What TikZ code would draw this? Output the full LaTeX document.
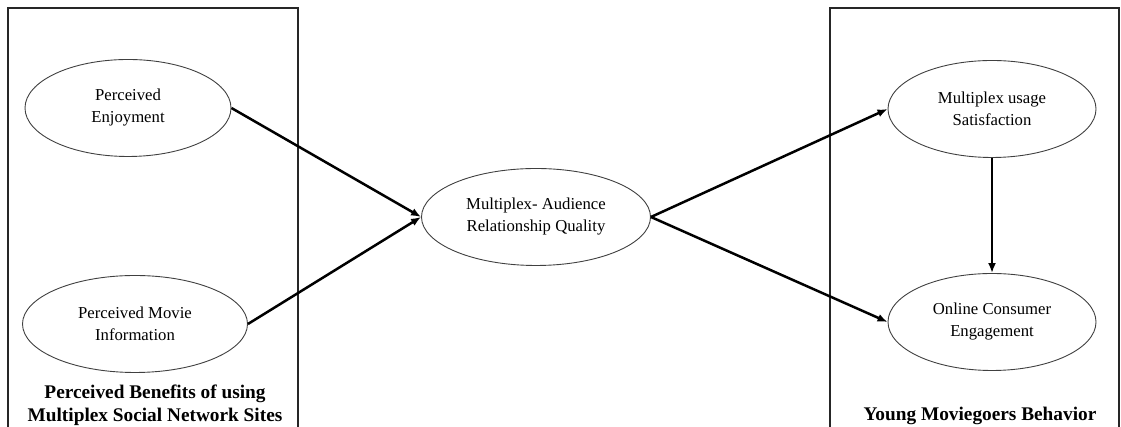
\documentclass[tikz,border=0pt]{standalone}
\usepackage{fontspec}
\setmainfont{Liberation Serif}
\usetikzlibrary{arrows.meta, positioning, shapes.geometric}

\begin{document}
\begin{tikzpicture}[
  x=1pt, y=1pt,
  construct/.style={
    ellipse, draw=black!75, line width=0.9pt, align=center,
    inner sep=0pt, minimum width=#1, minimum height=97pt,
    font=\fontsize{16.7}{22}\selectfont
  },
  groupbox/.style={draw=black!85, line width=1.6pt},
  grouplabel/.style={font=\fontsize{19.3}{23}\selectfont\bfseries, align=center},
  path/.style={-{Latex[length=10pt, width=8pt]}, line width=2.5pt},
]

\clip (0,0) rectangle (1121,427);

% --- Framing boxes -----------------------------------------------------------
\draw[groupbox] (8,-20) rectangle (298,419);
\draw[groupbox] (830,-20) rectangle (1119,419);

% --- Constructs --------------------------------------------------------------
\node[construct=206pt] (enjoy) at (128,319) {Perceived\\Enjoyment};
\node[construct=225pt] (info)  at (135,103) {Perceived Movie\\Information};
\node[construct=229pt] (rq)    at (536,210) {Multiplex- Audience\\Relationship Quality};
\node[construct=208pt] (satis) at (992,318) {Multiplex usage\\Satisfaction};
\node[construct=208pt] (engage) at (992,105) {Online Consumer\\Engagement};

% --- Paths -------------------------------------------------------------------
\foreach \a/\b in {enjoy/rq, info/rq}
  \draw[path] (\a.east) -- (\b.west);
\foreach \b in {satis, engage}
  \draw[path] (rq.east) -- (\b.west);
\draw[path] (satis) -- (engage);

% --- Group labels ------------------------------------------------------------
\node[grouplabel] (benefits) at (155,22) {Perceived Benefits of using\\Multiplex Social Network Sites};
\node[grouplabel] (behavior) at (980,11) {Young Moviegoers Behavior};

\end{tikzpicture}
\end{document}
